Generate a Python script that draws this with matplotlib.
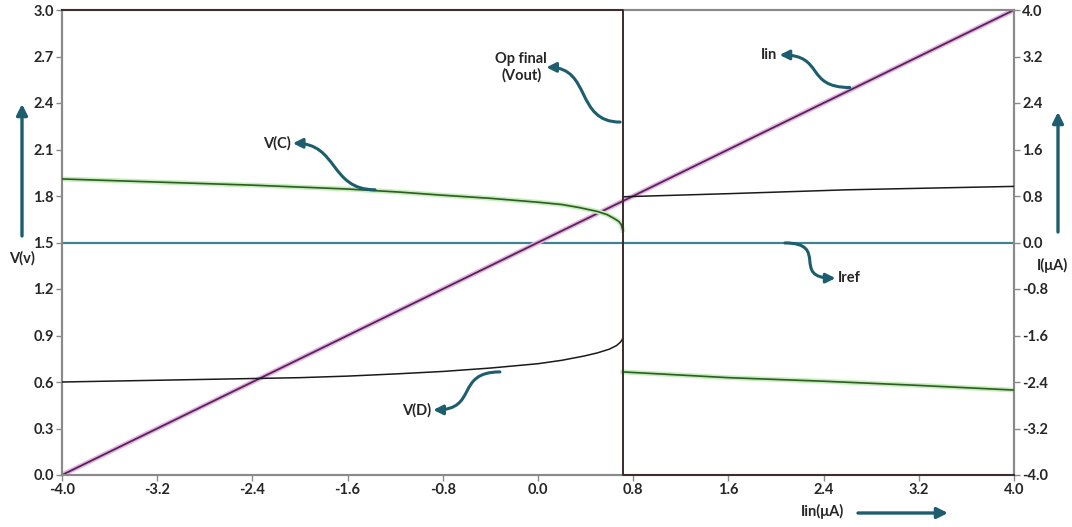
import matplotlib
matplotlib.use("Agg")
import matplotlib.pyplot as plt
from matplotlib.patches import FancyArrowPatch
from matplotlib.path import Path

# ---- data ----
x_switch = 0.712
vc_left_x = [-4.0, -3.2, -2.4, -1.6, -1.16, -0.8, -0.4, 0.0, 0.2, 0.35, 0.5, 0.58, 0.64, 0.68, 0.70, 0.712]
vc_left_y = [1.91, 1.89, 1.87, 1.845, 1.825, 1.805, 1.785, 1.76, 1.745, 1.725, 1.70, 1.68, 1.655, 1.635, 1.615, 1.58]
vc_right_x = [0.712, 1.6, 2.4, 3.2, 4.0]
vc_right_y = [0.665, 0.628, 0.605, 0.578, 0.548]

vd_left_x = [-4.0, -3.0, -2.0, -1.6, -1.2, -0.8, -0.4, 0.0, 0.2, 0.39, 0.5, 0.6, 0.66, 0.69, 0.705, 0.712]
vd_left_y = [0.60, 0.614, 0.628, 0.638, 0.652, 0.668, 0.69, 0.718, 0.74, 0.768, 0.788, 0.812, 0.835, 0.855, 0.87, 0.883]
vd_right_x = [0.712, 1.6, 2.6, 4.0]
vd_right_y = [1.795, 1.815, 1.84, 1.862]

vout_x = [-4.0, x_switch, x_switch, 4.0]
vout_y = [3.0, 3.0, 0.0, 0.0]

iin_x = [-4.0, 4.0]
iin_y = [-4.0, 4.0]
iref_x = [-4.0, 4.0]
iref_y = [0.0, 0.0]

x_ticks = [-4.0, -3.2, -2.4, -1.6, -0.8, 0.0, 0.8, 1.6, 2.4, 3.2, 4.0]
v_ticks = [0.0, 0.3, 0.6, 0.9, 1.2, 1.5, 1.8, 2.1, 2.4, 2.7, 3.0]
i_ticks = [-4.0, -3.2, -2.4, -1.6, -0.8, 0.0, 0.8, 1.6, 2.4, 3.2, 4.0]

# ---- styling ----
plt.rcParams['font.family'] = ['Lato', 'DejaVu Sans']
teal = '#1d5e6e'
spine_c = '#8a8a8a'
txt_c = '#262626'

fig = plt.figure(figsize=(10.72, 5.27), dpi=100)
ax = fig.add_axes([62/1072, 52/527, 952/1072, 465/527])
ax2 = ax.twinx()

# right axis (currents)
ax2.plot(iref_x, iref_y, color='#3f8290', lw=1.6, zorder=2)
ax2.plot(iin_x, iin_y, color='#e3b3e3', lw=3.5, zorder=3, solid_capstyle='butt')
ax2.plot(iin_x, iin_y, color='#5a2358', lw=1.3, zorder=4)

# left axis (voltages)
for xs, ys in [(vc_left_x, vc_left_y), (vc_right_x, vc_right_y)]:
    ax.plot(xs, ys, color='#c4efbb', lw=3.5, zorder=2)
    ax.plot(xs, ys, color='#2f5a24', lw=1.2, zorder=3)
ax.plot(vd_left_x, vd_left_y, color='#1a1a1a', lw=1.1, zorder=3)
ax.plot(vd_right_x, vd_right_y, color='#1a1a1a', lw=1.1, zorder=3)
ax.plot(vout_x, vout_y, color='#3b2b2b', lw=1.4, zorder=4, clip_on=False)

ax.set_xlim(-4, 4)
ax.set_ylim(0, 3)
ax2.set_ylim(-4, 4)
ax.set_xticks(x_ticks)
ax.set_xticklabels([f"{t:.1f}" for t in x_ticks])
ax.set_yticks(v_ticks)
ax.set_yticklabels([f"{t:.1f}" for t in v_ticks])
ax2.set_yticks(i_ticks)
ax2.set_yticklabels([f"{t:.1f}" for t in i_ticks])

for a in (ax, ax2):
    for s in a.spines.values():
        s.set_color(spine_c)
        s.set_linewidth(1.5)
    a.tick_params(colors=spine_c, labelcolor=txt_c, labelsize=10.5, length=4, width=1)
    for lab in a.get_xticklabels() + a.get_yticklabels():
        lab.set_fontweight('bold')
ax.tick_params(axis='x', pad=2)
ax.tick_params(axis='y', pad=2)
ax2.tick_params(axis='y', pad=2)
ax.set_zorder(ax2.get_zorder() + 1)
ax.patch.set_visible(False)

# ---- annotations (S-shaped arrows) ----
fs = 10.5

def s_arrow(tail, head, d):
    verts = [tail, (tail[0] + d, tail[1]), (head[0] - d, head[1]), head]
    codes = [Path.MOVETO, Path.CURVE4, Path.CURVE4, Path.CURVE4]
    p = FancyArrowPatch(path=Path(verts, codes), arrowstyle='-|>', color=teal,
                        lw=2.2, mutation_scale=14, transform=ax.transData, zorder=6)
    ax.add_patch(p)

def note(text, tail, head, textpos, ha, d):
    s_arrow(tail, head, d)
    ax.text(textpos[0], textpos[1], text, ha=ha, va='center', fontsize=fs,
            fontweight='bold', color=txt_c, multialignment='center', zorder=7)

note('V(C)', (-1.37, 1.84), (-2.06, 2.14), (-2.08, 2.14), 'right', -0.38)
note('Op final\n(Vout)', (0.69, 2.277), (0.07, 2.63), (-0.14, 2.63), 'center', -0.38)
note('Iin', (2.62, 2.50), (2.03, 2.71), (2.01, 2.71), 'right', -0.38)
note('Iref', (2.075, 1.497), (2.50, 1.27), (2.52, 1.27), 'left', 0.38)
note('V(D)', (-0.32, 0.665), (-0.88, 0.42), (-0.90, 0.42), 'right', -0.38)

# ---- axis labels with arrows ----
def fp(px, py):
    return (px / 1072, 1 - py / 527)

big = dict(arrowstyle='-|>', color=teal, lw=2.4, mutation_scale=16, shrinkA=0, shrinkB=0)
fig.text(*fp(22, 258), 'V(v)', ha='center', va='center', fontsize=fs,
         fontweight='bold', color=txt_c)
fig.add_artist(FancyArrowPatch(fp(22, 236), fp(22, 104),
               transform=fig.transFigure, **big))
fig.text(*fp(1052, 265), 'I(μA)', ha='center', va='center', fontsize=fs,
         fontweight='bold', color=txt_c)
fig.add_artist(FancyArrowPatch(fp(1058, 232), fp(1058, 112),
               transform=fig.transFigure, **big))
fig.text(*fp(822, 511), 'Iin(μA)', ha='center', va='center', fontsize=fs,
         fontweight='bold', color=txt_c)
fig.add_artist(FancyArrowPatch(fp(858, 513), fp(948, 513),
               transform=fig.transFigure, **big))

fig.savefig('out.png', dpi=100)
